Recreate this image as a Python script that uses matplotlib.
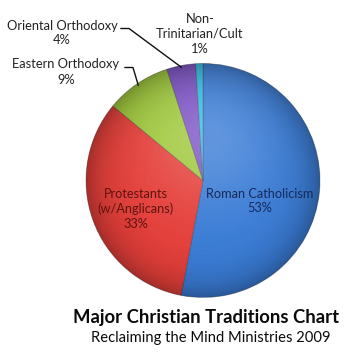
import numpy as np
import matplotlib
matplotlib.use('Agg')
import matplotlib.pyplot as plt

# slice data (clockwise from 12 o'clock)
traditions = ['Roman Catholicism', 'Protestants\n(w/Anglicans)', 'Eastern Orthodoxy',
              'Oriental Orthodoxy', 'Non-\nTrinitarian/Cult']
shares = [53, 33, 9, 4, 1]
colors = ['#3a7cd6', '#e53f3a', '#9fc83b', '#7d53c6', '#33bfe6']

title = 'Major Christian Traditions Chart'
subtitle = 'Reclaiming the Mind Ministries 2009'

plt.rcParams['font.family'] = ['Lato', 'DejaVu Sans']

W, H = 358, 357
fig = plt.figure(figsize=(W / 100, H / 100), dpi=100)
ax = fig.add_axes([0, 0, 1, 1])

cx, cy, r = 203, H - 180.5, 117
wedges, _ = ax.pie(shares, colors=colors, startangle=90, counterclock=False,
                   center=(cx, cy), radius=r,
                   wedgeprops=dict(linewidth=0.6, edgecolor='#2a2a2a60'))
ax.set_xlim(0, W)
ax.set_ylim(0, H)
ax.set_aspect('equal')
ax.axis('off')

# glossy shading clipped to the pie
yy, xx = np.mgrid[-1:1:300j, -1:1:300j]
d = np.sqrt(xx ** 2 + yy ** 2)
dark = np.zeros((300, 300, 4))
dark[..., 3] = np.clip(0.28 * d ** 6, 0, 0.3)
light = np.ones((300, 300, 4))
light[..., 3] = 0.2 * np.exp(-((xx - 0.05) ** 2 + (yy - 0.35) ** 2) / 0.35)
ext = [cx - r, cx + r, cy - r, cy + r]
for img in (light, dark):
    im = ax.imshow(img, extent=ext, origin='lower', zorder=3, interpolation='bilinear')
    im.set_clip_path(plt.Circle((cx, cy), r, transform=ax.transData))
ax.set_xlim(0, W)
ax.set_ylim(0, H)

labels = [f'{t}\n{s}%' for t, s in zip(traditions, shares)]

# inside labels
ax.text(260, H - 201, labels[0], ha='center', va='center', fontsize=9.2,
        color='#16295a', linespacing=1.3, zorder=5)
ax.text(136, H - 209, labels[1], ha='center', va='center', fontsize=9.2,
        color='#5e1410', linespacing=1.3, zorder=5)

# outside labels with leader lines
def mid_point(w, rr):
    a = np.deg2rad((w.theta1 + w.theta2) / 2)
    return cx + rr * np.cos(a), cy + rr * np.sin(a)

outside = [(2, 66, H - 72, 125, 133), (3, 62, H - 33, 121, 129)]
for i, tx, ty, lx0, lx1 in outside:
    ax.text(tx, ty, labels[i], ha='center', va='center', fontsize=9.3,
            color='#222222', linespacing=1.3, zorder=5)
    px, py = mid_point(wedges[i], r * 0.985)
    ly = ty + 4.5
    ax.plot([lx0, lx1, px], [ly, ly, py], color='#111111', lw=1.0, zorder=5)

ax.text(200, H - 34, labels[4], ha='center', va='center', fontsize=9.3,
        color='#222222', linespacing=1.3, zorder=5)

ax.text(206, H - 318, title, ha='center', va='center', fontsize=13.3,
        fontweight='bold', color='#0a0a0a')
ax.text(211, H - 338, subtitle, ha='center', va='center', fontsize=10.6,
        color='#0a0a0a')

fig.savefig('out.png', dpi=100, facecolor='white')
